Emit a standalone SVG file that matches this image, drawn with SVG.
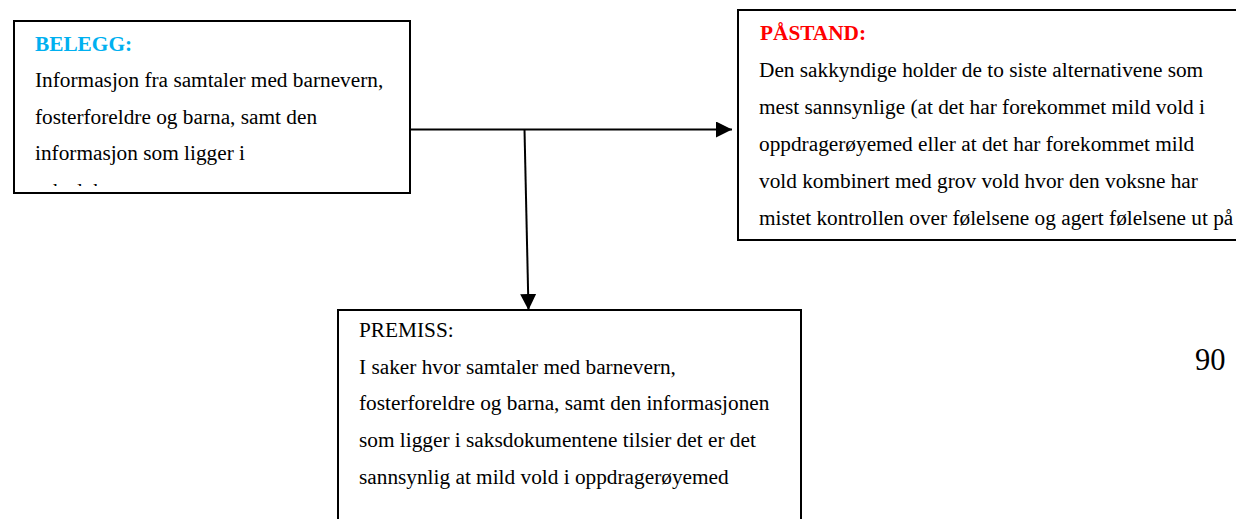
<svg xmlns="http://www.w3.org/2000/svg" width="1236" height="519" viewBox="0 0 1236 519">
<style>
.box{fill:#fff;stroke:#000;stroke-width:2}
.t{font-family:"Liberation Serif","Times New Roman",serif;font-size:21.3px;fill:#000}
.h{font-weight:bold}
.conn{stroke:#000;stroke-width:2;fill:none}
</style>
<defs>
<marker id="ah" markerWidth="16" markerHeight="16" refX="16" refY="8" orient="auto" markerUnits="userSpaceOnUse" viewBox="0 0 16 16">
<path d="M0,0 L16,8 L0,16 Z" fill="#000"/>
</marker>
<clipPath id="clipB"><rect x="15" y="22" width="394" height="164"/></clipPath>
</defs>
<rect width="1236" height="519" fill="#fff"/>
<g id="belegg">
<rect class="box" x="14" y="21" width="396" height="172"/>
<g clip-path="url(#clipB)">
<text class="t h" x="35" y="51" style="fill:#00B0F0">BELEGG:</text>
<text class="t" x="35" y="87">Informasjon fra samtaler med barnevern,</text>
<text class="t" x="35" y="123.5">fosterforeldre og barna, samt den</text>
<text class="t" x="35" y="160">informasjon som ligger i</text>
<text class="t" x="35" y="198">saksdokumentene.</text>
</g>
</g>
<g id="pastand">
<rect class="box" x="738" y="10" width="510" height="230"/>
<text class="t h" x="760" y="40" style="fill:#FF0000">PÅSTAND:</text>
<text class="t" x="759" y="77">Den sakkyndige holder de to siste alternativene som</text>
<text class="t" x="759" y="113.5">mest sannsynlige (at det har forekommet mild vold i</text>
<text class="t" x="759" y="150.5">oppdragerøyemed eller at det har forekommet mild</text>
<text class="t" x="759" y="188">vold kombinert med grov vold hvor den voksne har</text>
<text class="t" x="759" y="225">mistet kontrollen over følelsene og agert følelsene ut på</text>
</g>
<g id="premiss">
<rect class="box" x="338" y="310" width="463" height="220"/>
<text class="t" x="359" y="337">PREMISS:</text>
<text class="t" x="359" y="373.5">I saker hvor samtaler med barnevern,</text>
<text class="t" x="359" y="410">fosterforeldre og barna, samt den informasjonen</text>
<text class="t" x="359" y="447">som ligger i saksdokumentene tilsier det er det</text>
<text class="t" x="359" y="483.5">sannsynlig at mild vold i oppdragerøyemed</text>
</g>
<g id="pagenum">
<text x="1195" y="370" style="font-family:'Liberation Serif','Times New Roman',serif;font-size:30.5px;fill:#000">90</text>
</g>
<g id="connectors">
<line class="conn" x1="410" y1="129.5" x2="732" y2="129.5" marker-end="url(#ah)"/>
<line class="conn" x1="524.5" y1="129.5" x2="528.5" y2="310" marker-end="url(#ah)"/>
</g>
</svg>
